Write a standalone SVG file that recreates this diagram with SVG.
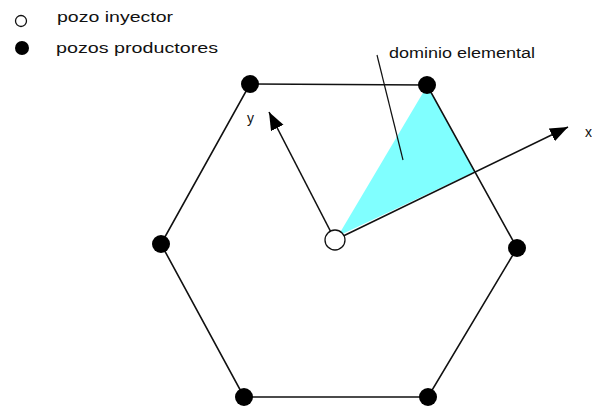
<svg xmlns="http://www.w3.org/2000/svg" width="592" height="413" viewBox="0 0 592 413">
<style>
text{font-family:"Liberation Sans",Arial,sans-serif;font-size:14px;fill:#111}
.edge{stroke:#111;stroke-width:1.6;fill:none}
.prod{fill:#000}
.inj{fill:#fff;stroke:#111;stroke-width:1.3}
</style>
<defs>
<marker id="ah" markerUnits="userSpaceOnUse" markerWidth="20" markerHeight="16" refX="18" refY="7" orient="auto">
<path d="M0,0 L18,7 L0,14 Z" fill="#000"/>
</marker>
</defs>
<rect width="592" height="413" fill="#fff"/>
<g id="legend">
<circle cx="21" cy="21" r="5.5" class="inj"/>
<text x="57" y="22" textLength="116" lengthAdjust="spacingAndGlyphs" style="font-size:15px">pozo inyector</text>
<circle cx="22" cy="48" r="7" class="prod"/>
<text x="56" y="53" textLength="162" lengthAdjust="spacingAndGlyphs" style="font-size:15px">pozos productores</text>
</g>
<g id="domain">
<polygon points="338,236 427,86 475,171.5" fill="#80FFFF"/>
</g>
<g id="connectors">
<polygon class="edge" points="250,84 427,85 517,248 428,397 244,397 161,244"/>
<line class="edge" x1="335" y1="240" x2="568" y2="127" marker-end="url(#ah)"/>
<line class="edge" x1="335" y1="240" x2="269" y2="112" marker-end="url(#ah)"/>
<line class="edge" x1="377" y1="55" x2="403" y2="160" style="stroke-width:1.2"/>
</g>
<g id="n-tl"><circle cx="250" cy="84" r="9" class="prod"/></g>
<g id="n-tr"><circle cx="427" cy="85" r="9" class="prod"/></g>
<g id="n-r"><circle cx="517" cy="248" r="9" class="prod"/></g>
<g id="n-br"><circle cx="428" cy="397" r="9" class="prod"/></g>
<g id="n-bl"><circle cx="244" cy="397" r="9" class="prod"/></g>
<g id="n-l"><circle cx="161" cy="244" r="9" class="prod"/></g>
<g id="n-inj"><circle cx="335" cy="240" r="10" class="inj"/></g>
<g id="labels">
<text x="389" y="58" textLength="146" lengthAdjust="spacingAndGlyphs">dominio elemental</text>
<text x="247" y="123">y</text>
<text x="585" y="137">x</text>
</g>
</svg>
